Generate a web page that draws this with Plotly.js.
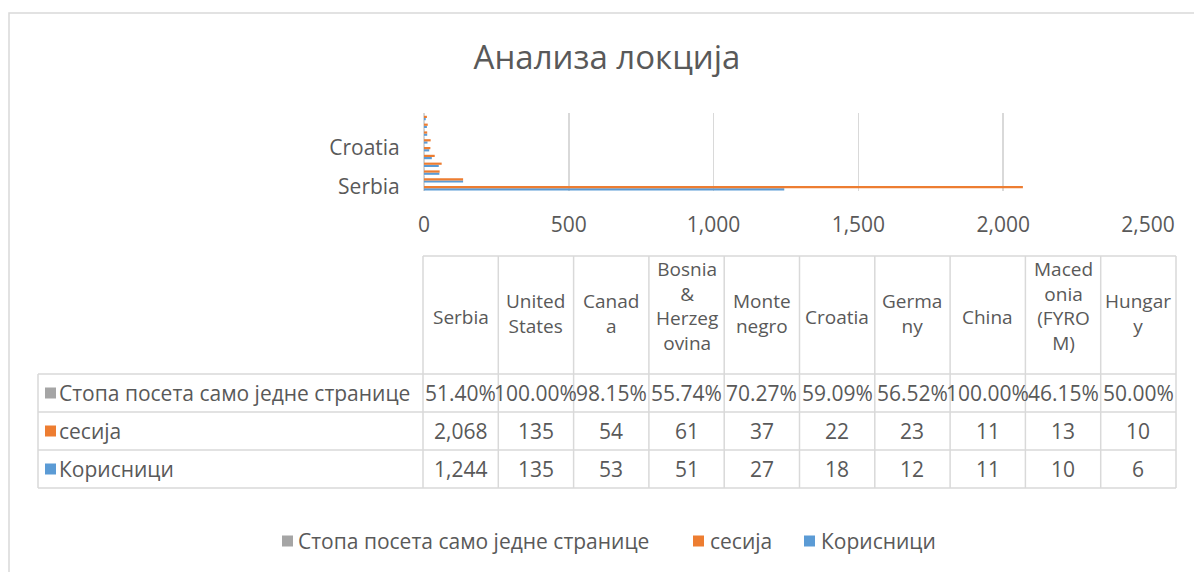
<!DOCTYPE html>
<html>
<head>
<meta charset="utf-8">
<script src="https://cdn.plot.ly/plotly-3.0.1.min.js"></script>
<style>
  html, body { margin: 0; padding: 0; background: #fff; }
  #chart { width: 1194px; height: 572px; }
</style>
</head>
<body>
<div id="chart"></div>
<script>
// ---- data ----
const countries = ['Serbia', 'United States', 'Canada', 'Bosnia & Herzegovina', 'Montenegro',
                   'Croatia', 'Germany', 'China', 'Macedonia (FYROM)', 'Hungary'];
const headerLabels = ['Serbia', 'United<br>States', 'Canad<br>a', 'Bosnia<br>&<br>Herzeg<br>ovina',
                      'Monte<br>negro', 'Croatia', 'Germa<br>ny', 'China', 'Maced<br>onia<br>(FYRO<br>M)', 'Hungar<br>y'];
const users    = [1244, 135, 53, 51, 27, 18, 12, 11, 10, 6];
const sessions = [2068, 135, 54, 61, 37, 22, 23, 11, 13, 10];
const bounce   = [51.40, 100.00, 98.15, 55.74, 70.27, 59.09, 56.52, 100.00, 46.15, 50.00]; // percent
const seriesNames = ['Корисници', 'сесија', 'Стопа посета само једне странице'];
const yTickLabels = ['Serbia', 'Croatia'];
const xTicks = [0, 500, 1000, 1500, 2000, 2500];
const titleText = 'Анализа локција';

// ---- style ----
const BLUE = '#5b9bd5', ORANGE = '#ed7d31', GREY = '#a5a5a5';
const TXT = '#595959', GRID = '#d9d9d9';
const FONT = 'Open Sans, Noto Sans, DejaVu Sans, sans-serif';
const TSIZE = 21;

// plot area in pixels
const PL = 424, PR = 1148, PT = 113, PB = 191;
const W = 1194, H = 572;
const X = px => (px - PL) / (PR - PL);
const Y = py => (PB - py) / (PB - PT);

const traces = [
  { type: 'bar', orientation: 'h', name: seriesNames[0], y: countries, x: users,
    marker: { color: BLUE }, hoverinfo: 'x+y' },
  { type: 'bar', orientation: 'h', name: seriesNames[1], y: countries, x: sessions,
    marker: { color: ORANGE }, hoverinfo: 'x+y' },
  { type: 'bar', orientation: 'h', name: seriesNames[2], y: countries, x: bounce.map(v => v / 100),
    marker: { color: GREY }, hoverinfo: 'x+y' }
];

// ---- data table (shapes + annotations) ----
const tblLeft = 38, labelRight = 423, colW = 75.3, hdrTop = 256, hdrBottom = 374, rowH = 38;
const tblRight = labelRight + colW * countries.length;
const tblBottom = hdrBottom + rowH * 3;
const line = { color: GRID, width: 1.5 };
const shapes = [];
const annotations = [];

// outer chart frame
shapes.push({ type: 'path', xref: 'paper', yref: 'paper',
  path: `M ${X(W + 5)} ${Y(13)} L ${X(9)} ${Y(13)} L ${X(9)} ${Y(H + 5)}`,
  line: { color: GRID, width: 1.5 } });

// horizontal lines
shapes.push({ type: 'line', xref: 'paper', yref: 'paper', x0: X(labelRight), x1: X(tblRight), y0: Y(hdrTop), y1: Y(hdrTop), line });
for (let r = 0; r <= 3; r++) {
  const yy = hdrBottom + r * rowH;
  shapes.push({ type: 'line', xref: 'paper', yref: 'paper', x0: X(tblLeft), x1: X(tblRight), y0: Y(yy), y1: Y(yy), line });
}
// vertical lines
shapes.push({ type: 'line', xref: 'paper', yref: 'paper', x0: X(tblLeft), x1: X(tblLeft), y0: Y(hdrBottom), y1: Y(tblBottom), line });
for (let c = 0; c <= countries.length; c++) {
  const xx = labelRight + c * colW;
  shapes.push({ type: 'line', xref: 'paper', yref: 'paper', x0: X(xx), x1: X(xx), y0: Y(hdrTop), y1: Y(tblBottom), line });
}

// header texts
headerLabels.forEach((t, i) => {
  const n = t.split('<br>').length;
  const cy = 317 - (n - 1) * 3.7;
  annotations.push({ xref: 'paper', yref: 'paper', x: X(labelRight + colW * (i + 0.5)), y: Y(cy),
    text: t, showarrow: false, xanchor: 'center', yanchor: 'middle', align: 'center',
    font: { family: FONT, size: 19, color: TXT } });
});

// rows
const rows = [
  { name: seriesNames[2], color: GREY,   vals: bounce.map(v => v.toFixed(2) + '%') },
  { name: seriesNames[1], color: ORANGE, vals: sessions.map(v => v.toLocaleString('en-US')) },
  { name: seriesNames[0], color: BLUE,   vals: users.map(v => v.toLocaleString('en-US')) }
];
rows.forEach((row, r) => {
  const cy = hdrBottom + rowH * (r + 0.5);
  shapes.push({ type: 'rect', xref: 'paper', yref: 'paper', x0: X(45), x1: X(56), y0: Y(cy - 5.5), y1: Y(cy + 5.5),
    fillcolor: row.color, line: { width: 0 } });
  annotations.push({ xref: 'paper', yref: 'paper', x: X(57), y: Y(cy), text: row.name, showarrow: false,
    xanchor: 'left', yanchor: 'middle', font: { family: FONT, size: TSIZE, color: TXT } });
  row.vals.forEach((v, i) => {
    annotations.push({ xref: 'paper', yref: 'paper', x: X(labelRight + colW * (i + 0.5)), y: Y(cy), text: v,
      showarrow: false, xanchor: 'center', yanchor: 'middle', font: { family: FONT, size: TSIZE, color: TXT } });
  });
});

// legend (Excel-style: small square right next to the text)
const legendItems = [
  { name: seriesNames[2], color: GREY,   sq: 282, tx: 296 },
  { name: seriesNames[1], color: ORANGE, sq: 693, tx: 708 },
  { name: seriesNames[0], color: BLUE,   sq: 804, tx: 819 }
];
const LY = 541;
legendItems.forEach(it => {
  shapes.push({ type: 'rect', xref: 'paper', yref: 'paper', x0: X(it.sq), x1: X(it.sq + 11), y0: Y(LY - 5.5), y1: Y(LY + 5.5),
    fillcolor: it.color, line: { width: 0 } });
  annotations.push({ xref: 'paper', yref: 'paper', x: X(it.tx), y: Y(LY), text: it.name, showarrow: false,
    xanchor: 'left', yanchor: 'middle', font: { family: FONT, size: TSIZE, color: TXT } });
});

const layout = {
  width: W, height: H, autosize: false,
  paper_bgcolor: '#fff', plot_bgcolor: '#fff',
  margin: { l: PL, r: W - PR, t: PT, b: H - PB, pad: 0 },
  font: { family: FONT, color: TXT },
  title: { text: titleText, xref: 'container', yref: 'container', x: 607 / W, y: 1 - 57 / H,
    xanchor: 'center', yanchor: 'middle', font: { family: FONT, size: 33, color: TXT } },
  barmode: 'group', bargap: 0.15, bargroupgap: 0,
  xaxis: { range: [0, 2500], tickvals: xTicks, tickformat: ',', showgrid: true, gridcolor: GRID, gridwidth: 1.5,
    zeroline: true, zerolinecolor: GRID, zerolinewidth: 1.5, showline: false,
    ticks: 'outside', ticklen: 15, tickcolor: 'rgba(0,0,0,0)', tickfont: { family: FONT, size: 21, color: TXT },
    fixedrange: true },
  yaxis: { type: 'category', categoryarray: countries, categoryorder: 'array', range: [-0.5, 9.5],
    tickvals: yTickLabels, showgrid: false, zeroline: false, showline: false,
    ticks: 'outside', ticklen: 19, tickcolor: 'rgba(0,0,0,0)', tickfont: { family: FONT, size: 21, color: TXT },
    fixedrange: true },
  showlegend: false,
  shapes, annotations
};

Plotly.newPlot('chart', traces, layout, { displayModeBar: false, staticPlot: true });
</script>
</body>
</html>
